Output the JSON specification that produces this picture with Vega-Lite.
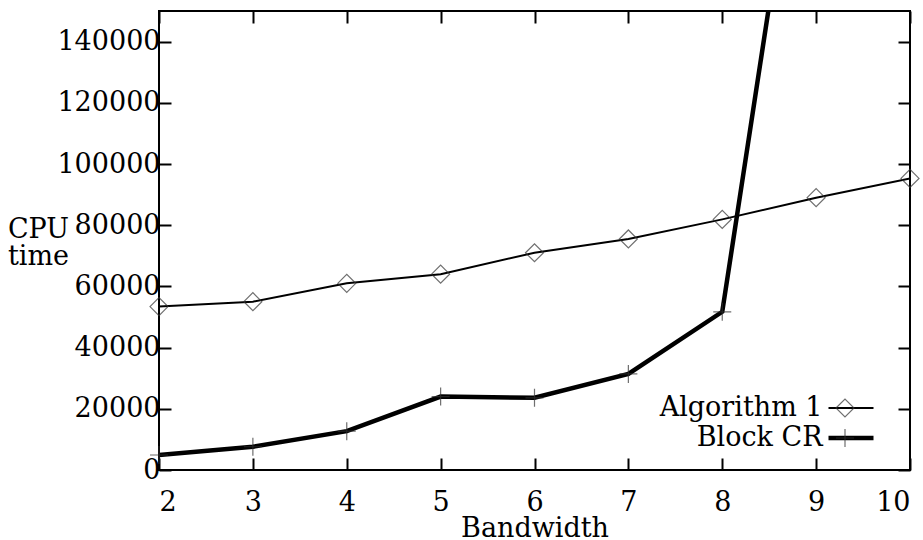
{
  "$schema": "https://vega.github.io/schema/vega-lite/v6.json",
  "width": 751,
  "height": 459,
  "autosize": {"type": "none"},
  "padding": {"left": 159, "top": 11, "right": 13, "bottom": 70},
  "background": "white",
  "config": {
    "view": {"stroke": "black", "strokeWidth": 2},
    "axis": {
      "labelFont": "DejaVu Serif",
      "labelFontSize": 27,
      "labelColor": "black",
      "tickColor": "black",
      "tickWidth": 2,
      "tickSize": -12,
      "domain": false,
      "grid": false,
      "titleFont": "DejaVu Serif",
      "titleFontSize": 27,
      "titleFontWeight": "normal",
      "titleColor": "black"
    },
    "legend": {
      "labelFont": "DejaVu Serif",
      "labelFontSize": 27,
      "labelColor": "black",
      "labelLimit": 400,
      "padding": 0,
      "rowPadding": 2,
      "orient": "none"
    }
  },
  "data": {
    "values": [
      {"bandwidth": 2, "cpu": 53400, "series": "Algorithm 1"},
      {"bandwidth": 3, "cpu": 55000, "series": "Algorithm 1"},
      {"bandwidth": 4, "cpu": 61000, "series": "Algorithm 1"},
      {"bandwidth": 5, "cpu": 64000, "series": "Algorithm 1"},
      {"bandwidth": 6, "cpu": 71000, "series": "Algorithm 1"},
      {"bandwidth": 7, "cpu": 75500, "series": "Algorithm 1"},
      {"bandwidth": 8, "cpu": 81900, "series": "Algorithm 1"},
      {"bandwidth": 9, "cpu": 89000, "series": "Algorithm 1"},
      {"bandwidth": 10, "cpu": 95300, "series": "Algorithm 1"},
      {"bandwidth": 2, "cpu": 4900, "series": "Block CR"},
      {"bandwidth": 3, "cpu": 7600, "series": "Block CR"},
      {"bandwidth": 4, "cpu": 12700, "series": "Block CR"},
      {"bandwidth": 5, "cpu": 24000, "series": "Block CR"},
      {"bandwidth": 6, "cpu": 23600, "series": "Block CR"},
      {"bandwidth": 7, "cpu": 31400, "series": "Block CR"},
      {"bandwidth": 8, "cpu": 51700, "series": "Block CR"},
      {"bandwidth": 9, "cpu": 252000, "series": "Block CR"}
    ]
  },
  "layer": [
    {
      "mark": {"type": "line", "clip": true},
      "encoding": {
        "x": {
          "field": "bandwidth", "type": "quantitative",
          "scale": {"domain": [2, 10], "nice": false, "zero": false},
          "axis": {
            "orient": "bottom",
            "values": [2, 3, 4, 5, 6, 7, 8, 9, 10],
            "title": "Bandwidth",
            "labelFont": "DejaVu Serif",
            "titleFont": "DejaVu Serif",
            "labelPadding": 31,
            "titleX": 375.5,
            "titleY": 66,
            "titleAnchor": "middle",
            "titleAlign": "center",
            "titleBaseline": "alphabetic"
          }
        },
        "y": {
          "field": "cpu", "type": "quantitative",
          "scale": {"domain": [0, 150000], "nice": false},
          "axis": {
            "orient": "left",
            "values": [0, 20000, 40000, 60000, 80000, 100000, 120000, 140000],
            "format": "d",
            "labelFont": "DejaVu Serif",
            "titleFont": "DejaVu Serif",
            "labelPadding": 11,
            "title": ["CPU", "time"],
            "titleAngle": 0,
            "titleAlign": "center",
            "titleBaseline": "alphabetic",
            "titleLineHeight": 27,
            "titleX": -121,
            "titleY": 226
          }
        },
        "stroke": {
          "field": "series", "type": "nominal",
          "scale": {"range": ["black", "black"]},
          "legend": {
            "title": null,
            "labelFont": "DejaVu Serif",
            "labelLimit": 400,
            "symbolType": "M-3,0H3",
            "symbolSize": 225,
            "symbolStrokeWidth": 3.5,
            "symbolStrokeColor": "black",
            "labelAlign": "right",
            "labelOffset": -42,
            "legendX": 678.5,
            "legendY": 383.5
          }
        },
        "strokeWidth": {
          "field": "series", "type": "ordinal",
          "scale": {"range": [2, 4.5]},
          "legend": null
        }
      }
    },
    {
      "transform": [{"filter": "datum.cpu <= 150000"}],
      "mark": {"type": "point", "filled": false, "stroke": "#333333", "strokeWidth": 1.2, "size": 324},
      "encoding": {
        "x": {
          "field": "bandwidth", "type": "quantitative",
          "axis": {"orient": "top", "values": [2, 3, 4, 5, 6, 7, 8, 9, 10], "labels": false, "title": null}
        },
        "y": {
          "field": "cpu", "type": "quantitative",
          "axis": {"orient": "right", "values": [0, 20000, 40000, 60000, 80000, 100000, 120000, 140000], "labels": false, "title": null}
        },
        "shape": {
          "field": "series", "type": "nominal",
          "scale": {"domain": ["Algorithm 1", "Block CR"], "range": ["diamond", "M-1,0H1M0,-1V1"]},
          "legend": {
            "title": null,
            "labelFont": "DejaVu Serif",
            "symbolSize": 324,
            "symbolStrokeColor": "#333333",
            "symbolFillColor": "transparent",
            "symbolStrokeWidth": 1.2,
            "labelExpr": "''",
            "legendX": 672.5,
            "legendY": 383.5
          }
        }
      }
    }
  ]
}
